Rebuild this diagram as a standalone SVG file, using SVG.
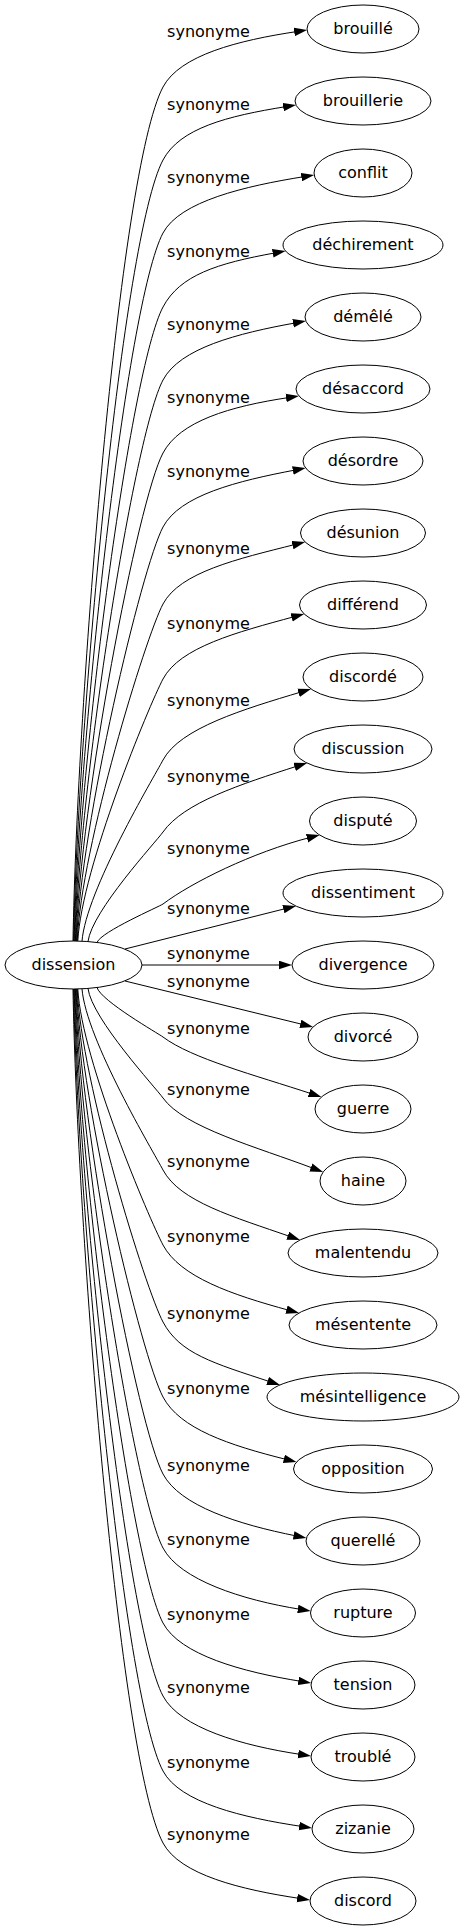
<svg xmlns="http://www.w3.org/2000/svg" width="465" height="1931" viewBox="0 0 465 1931">
<style>
text{font-family:"DejaVu Sans","Noto Sans",sans-serif;font-size:16px;fill:#000}
.node ellipse{fill:none;stroke:#000;stroke-width:1}
.node text{text-anchor:middle}
.edge path{fill:none;stroke:#000;stroke-width:1;marker-end:url(#arrow)}
.edge text{text-anchor:middle}
</style>
<defs>
<marker id="arrow" viewBox="0 -4.5 13 9" refX="3" refY="0" markerWidth="13" markerHeight="9" markerUnits="userSpaceOnUse" orient="auto">
<path d="M0,-4.3 L13,0 L0,4.3 z" fill="#000"/>
</marker>
</defs>
<rect width="465" height="1931" fill="#fff"/>
<g id="edges">
<g class="edge"><path d="M73,941 C77,702 118.9,170 163,87 C179.9,55.2 237.9,40.4 297.2,31.5"/><text x="208.5" y="36.5">synonyme</text></g>
<g class="edge"><path d="M73.6,941 C77.6,722.3 122.7,235.9 163,160 C179.9,128.2 226.9,116.1 286.1,106.6"/><text x="208.5" y="109.5">synonyme</text></g>
<g class="edge"><path d="M74.2,941 C78.2,742.8 126.5,301.8 163,233 C179.9,201.2 245.1,186.1 304.3,176.6"/><text x="208.5" y="182.5">synonyme</text></g>
<g class="edge"><path d="M74.8,941 C78.8,763.5 130.3,368.5 163,307 C179.9,275.2 216.7,263.4 275.7,252.8"/><text x="208.5" y="256.5">synonyme</text></g>
<g class="edge"><path d="M75.4,941 C79.4,783.9 134.1,434.5 163,380 C179.9,348.2 237,333.4 296,322.8"/><text x="208.5" y="329.5">synonyme</text></g>
<g class="edge"><path d="M76,941 C80,804.4 137.8,500.4 163,453 C179.9,421.2 229.7,406.4 289,397.5"/><text x="208.5" y="402.5">synonyme</text></g>
<g class="edge"><path d="M76.6,941 C80.6,825.1 141.7,567.2 163,527 C179.9,495.2 236.9,481.1 295.8,469.9"/><text x="208.5" y="476.5">synonyme</text></g>
<g class="edge"><path d="M77.2,941 C81.2,846.6 145.6,636.8 163,604 C179.9,572.2 237.2,559 295.4,544.4"/><text x="208.5" y="553.5">synonyme</text></g>
<g class="edge"><path d="M77.8,941 C81.8,867.6 149.5,704.4 163,679 C179.9,647.2 236.6,632.3 294.5,616.6"/><text x="208.5" y="628.5">synonyme</text></g>
<g class="edge"><path d="M82,941.2 C86,890.5 153.7,777.6 163,760 C179.9,728.2 243.9,709.1 301.4,691.9"/><text x="208.5" y="705.5">synonyme</text></g>
<g class="edge"><path d="M88,941.5 C92,910.8 156.1,841.8 163,832 C183.8,802.6 240.4,784.3 297.5,766"/><text x="208.5" y="781.5">synonyme</text></g>
<g class="edge"><path d="M97,942.5 C101,931.7 159.6,906.5 163,904 C191.8,882.4 251.8,852.6 309.9,837.5"/><text x="208.5" y="853.5">synonyme</text></g>
<g class="edge"><path d="M125,949 L286.3,908.4"/><text x="208.5" y="913.5">synonyme</text></g>
<g class="edge"><path d="M142,965 L282,965"/><text x="208.5" y="958.5">synonyme</text></g>
<g class="edge"><path d="M125,981 L303.3,1024.6"/><text x="208.5" y="986.5">synonyme</text></g>
<g class="edge"><path d="M97,987.5 C101,1000.9 158.8,1033.8 163,1037 C191.8,1058.6 254.9,1075.1 311.9,1093.9"/><text x="208.5" y="1033.5">synonyme</text></g>
<g class="edge"><path d="M88,988.5 C92,1019 156.1,1088.2 163,1098 C183.8,1127.4 257.6,1147.2 313.7,1168.5"/><text x="208.5" y="1094.5">synonyme</text></g>
<g class="edge"><path d="M82,988.8 C86,1039.5 153.7,1152.4 163,1170 C179.9,1201.8 234,1216.9 290.6,1236.7"/><text x="208.5" y="1166.5">synonyme</text></g>
<g class="edge"><path d="M77.8,989 C81.8,1060.7 149.8,1220.1 163,1245 C179.9,1276.8 231.5,1294.7 289.4,1310.4"/><text x="208.5" y="1241.5">synonyme</text></g>
<g class="edge"><path d="M77.2,989 C81.2,1082.2 145.8,1289.7 163,1322 C179.9,1353.8 213.5,1363.1 270.5,1381.9"/><text x="208.5" y="1318.5">synonyme</text></g>
<g class="edge"><path d="M76.6,989 C80.6,1103.2 141.9,1357.4 163,1397 C179.9,1428.8 228.6,1445 286.8,1459.6"/><text x="208.5" y="1393.5">synonyme</text></g>
<g class="edge"><path d="M76,989 C80,1124.8 138,1426.8 163,1474 C179.9,1505.8 237.7,1524.3 296.6,1536"/><text x="208.5" y="1470.5">synonyme</text></g>
<g class="edge"><path d="M75.4,989 C79.4,1145.5 134.2,1493.7 163,1548 C179.9,1579.8 241.6,1599.9 300.8,1609.4"/><text x="208.5" y="1544.5">synonyme</text></g>
<g class="edge"><path d="M74.8,989 C78.8,1166.5 130.3,1561.5 163,1623 C179.9,1654.8 242.1,1671.9 301.3,1681.4"/><text x="208.5" y="1619.5">synonyme</text></g>
<g class="edge"><path d="M74.2,989 C78.2,1187 126.5,1627.3 163,1696 C179.9,1727.8 241.8,1745.6 301.1,1754.5"/><text x="208.5" y="1692.5">synonyme</text></g>
<g class="edge"><path d="M73.6,989 C77.6,1208 122.7,1695.1 163,1771 C179.9,1802.8 242.8,1817.6 302.1,1826.5"/><text x="208.5" y="1767.5">synonyme</text></g>
<g class="edge"><path d="M73,989 C77,1228 118.9,1760 163,1843 C179.9,1874.8 240.8,1889.6 300.1,1898.5"/><text x="208.5" y="1839.5">synonyme</text></g>
</g>
<g id="node-dissension" class="node"><ellipse cx="73.5" cy="965" rx="68.5" ry="24"/><text x="73.5" y="970">dissension</text></g>
<g id="node-brouille" class="node"><ellipse cx="363" cy="29" rx="56" ry="24"/><text x="363" y="34">brouillé</text></g>
<g id="node-brouillerie" class="node"><ellipse cx="363" cy="101" rx="68" ry="24"/><text x="363" y="106">brouillerie</text></g>
<g id="node-conflit" class="node"><ellipse cx="363" cy="173" rx="49" ry="24"/><text x="363" y="178">conflit</text></g>
<g id="node-dechirement" class="node"><ellipse cx="363" cy="245" rx="80" ry="24"/><text x="363" y="250">déchirement</text></g>
<g id="node-demele" class="node"><ellipse cx="363" cy="317" rx="58" ry="24"/><text x="363" y="322">démêlé</text></g>
<g id="node-desaccord" class="node"><ellipse cx="363" cy="389" rx="67" ry="24"/><text x="363" y="394">désaccord</text></g>
<g id="node-desordre" class="node"><ellipse cx="363" cy="461" rx="60" ry="24"/><text x="363" y="466">désordre</text></g>
<g id="node-desunion" class="node"><ellipse cx="363" cy="533" rx="62.5" ry="24"/><text x="363" y="538">désunion</text></g>
<g id="node-differend" class="node"><ellipse cx="363" cy="605" rx="63.5" ry="24"/><text x="363" y="610">différend</text></g>
<g id="node-discorde" class="node"><ellipse cx="363" cy="677" rx="60" ry="24"/><text x="363" y="682">discordé</text></g>
<g id="node-discussion" class="node"><ellipse cx="363" cy="749" rx="69" ry="24"/><text x="363" y="754">discussion</text></g>
<g id="node-dispute" class="node"><ellipse cx="363" cy="821" rx="53.5" ry="24"/><text x="363" y="826">disputé</text></g>
<g id="node-dissentiment" class="node"><ellipse cx="363" cy="893" rx="80" ry="24"/><text x="363" y="898">dissentiment</text></g>
<g id="node-divergence" class="node"><ellipse cx="363" cy="965" rx="71" ry="24"/><text x="363" y="970">divergence</text></g>
<g id="node-divorce" class="node"><ellipse cx="363" cy="1037" rx="55" ry="24"/><text x="363" y="1042">divorcé</text></g>
<g id="node-guerre" class="node"><ellipse cx="363" cy="1109" rx="48" ry="24"/><text x="363" y="1114">guerre</text></g>
<g id="node-haine" class="node"><ellipse cx="363" cy="1181" rx="43" ry="24"/><text x="363" y="1186">haine</text></g>
<g id="node-malentendu" class="node"><ellipse cx="363" cy="1253" rx="75" ry="24"/><text x="363" y="1258">malentendu</text></g>
<g id="node-mesentente" class="node"><ellipse cx="363" cy="1325" rx="74" ry="24"/><text x="363" y="1330">mésentente</text></g>
<g id="node-mesintelligence" class="node"><ellipse cx="363" cy="1397" rx="96" ry="24"/><text x="363" y="1402">mésintelligence</text></g>
<g id="node-opposition" class="node"><ellipse cx="363" cy="1469" rx="69.5" ry="24"/><text x="363" y="1474">opposition</text></g>
<g id="node-querelle" class="node"><ellipse cx="363" cy="1541" rx="57" ry="24"/><text x="363" y="1546">querellé</text></g>
<g id="node-rupture" class="node"><ellipse cx="363" cy="1613" rx="52.5" ry="24"/><text x="363" y="1618">rupture</text></g>
<g id="node-tension" class="node"><ellipse cx="363" cy="1685" rx="52" ry="24"/><text x="363" y="1690">tension</text></g>
<g id="node-trouble" class="node"><ellipse cx="363" cy="1757" rx="52" ry="24"/><text x="363" y="1762">troublé</text></g>
<g id="node-zizanie" class="node"><ellipse cx="363" cy="1829" rx="51" ry="24"/><text x="363" y="1834">zizanie</text></g>
<g id="node-discord" class="node"><ellipse cx="363" cy="1901" rx="53" ry="24"/><text x="363" y="1906">discord</text></g>
</svg>
